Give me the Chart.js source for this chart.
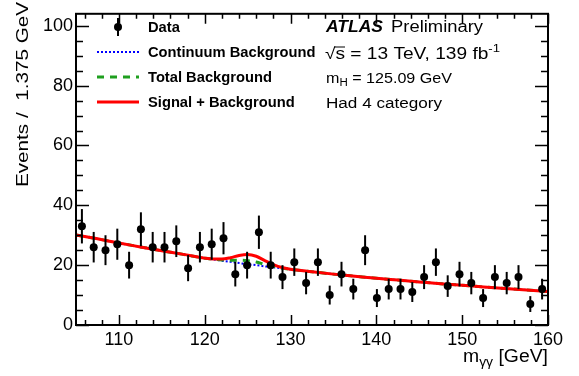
<!DOCTYPE html>
<html>
<head>
<meta charset="utf-8">
<script src="https://cdn.jsdelivr.net/npm/chart.js@4/dist/chart.umd.min.js"></script>
<style>
  html, body { margin: 0; padding: 0; background: #fff; }
  canvas { display: block; }
</style>
</head>
<body>
<canvas id="mgg" width="579" height="376"></canvas>
<script>
// binning of the histogram
var binLow = 105;
var binWidth = 1.375;

// events per bin
var events = [33, 26, 25, 27, 20, 32, 26, 26, 28, 19,
              26, 27, 29, 17, 20, 31, 20, 16, 21, 14,
              21, 10, 17, 12, 25, 9, 12, 12, 11, 16,
              21, 13, 17, 14, 9, 16, 14, 16, 7, 12];

// fitted curves, sampled along the mass axis
var curveMass = [105, 107.5, 110, 112.5, 115, 117.5, 120, 121, 122, 123, 124, 125, 126, 127, 128, 129, 130,
                 132.5, 135, 137.5, 140, 142.5, 145, 147.5, 150, 152.5, 155, 157.5, 160];
var continuumBkg = [30.1, 28.8, 27.4, 26.1, 24.8, 23.6, 22.3, 21.9, 21.5, 21.1, 20.7, 20.3, 20.0, 19.6, 19.3, 18.9, 18.6,
                    17.8, 17.0, 16.3, 15.6, 15.0, 14.4, 13.8, 13.3, 12.7, 12.2, 11.7, 11.2];
var totalBkg = [30.1, 28.8, 27.4, 26.1, 24.8, 23.6, 22.3, 21.97, 21.73, 21.66, 21.67, 21.5, 21.05, 20.25, 19.6, 19.0, 18.6,
                17.8, 17.0, 16.3, 15.6, 15.0, 14.4, 13.8, 13.3, 12.7, 12.2, 11.7, 11.2];
var signalBkg = [30.1, 28.8, 27.4, 26.1, 24.8, 23.6, 22.35, 22.06, 22.05, 22.5, 23.24, 23.57, 22.98, 21.52, 20.19, 19.2, 18.65,
                 17.8, 17.0, 16.3, 15.6, 15.0, 14.4, 13.8, 13.3, 12.7, 12.2, 11.7, 11.2];

// axis tick labels
var xTickValues = [110, 120, 130, 140, 150, 160];
var yTickValues = [0, 20, 40, 60, 80, 100];

var FONT = '"Liberation Sans", Arial, Helvetica, sans-serif';

function toPoints(xs, ys) {
    return xs.map(function (x, i) { return { x: x, y: ys[i] }; });
}

var dataPoints = events.map(function (n, i) {
    return { x: binLow + binWidth * (i + 0.5), y: n };
});

// draws several text pieces in a row, squeezed/stretched to a given width
function drawParts(ctx, x, y, parts, targetW) {
    var w = 0;
    parts.forEach(function (p) {
        ctx.font = p.font;
        p.w = ctx.measureText(p.t).width;
        w += p.w;
    });
    var sx = targetW ? targetW / w : 1;
    ctx.save();
    ctx.translate(x, y);
    ctx.scale(sx, 1);
    var cx = 0;
    parts.forEach(function (p) {
        ctx.font = p.font;
        ctx.fillText(p.t, cx, p.dy || 0);
        if (p.over) {
            ctx.lineWidth = 1;
            ctx.beginPath();
            ctx.moveTo(cx - 1, p.over);
            ctx.lineTo(cx + p.w, p.over);
            ctx.stroke();
        }
        cx += p.w;
    });
    ctx.restore();
}

var errorBars = {
    id: 'errorBars',
    afterDatasetsDraw: function (chart) {
        var ctx = chart.ctx, xs = chart.scales.x, ys = chart.scales.y;
        ctx.save();
        ctx.strokeStyle = '#000';
        ctx.lineWidth = 2;
        dataPoints.forEach(function (p) {
            var err = Math.sqrt(p.y);
            var px = xs.getPixelForValue(p.x);
            ctx.beginPath();
            ctx.moveTo(px, ys.getPixelForValue(p.y + err));
            ctx.lineTo(px, ys.getPixelForValue(p.y - err));
            ctx.stroke();
        });
        ctx.restore();
    }
};

var atlasFrame = {
    id: 'atlasFrame',
    afterDraw: function (chart) {
        var ctx = chart.ctx, a = chart.chartArea;
        var xs = chart.scales.x, ys = chart.scales.y;
        ctx.save();
        ctx.strokeStyle = '#000';
        ctx.fillStyle = '#000';

        // inward ticks on all four sides
        ctx.lineWidth = 1.5;
        ctx.beginPath();
        for (var v = 0; v <= ys.max; v += 5) {
            var py = Math.round(ys.getPixelForValue(v)) + 0.5;
            var len = (v % 20 === 0) ? 13 : 7;
            ctx.moveTo(a.left, py); ctx.lineTo(a.left + len, py);
            ctx.moveTo(a.right, py); ctx.lineTo(a.right - len, py);
        }
        for (var m = 106; m <= xs.max; m += 2) {
            var px = Math.round(xs.getPixelForValue(m)) + 0.5;
            var l2 = (m % 10 === 0) ? 10 : 5;
            ctx.moveTo(px, a.bottom); ctx.lineTo(px, a.bottom - l2);
            ctx.moveTo(px, a.top); ctx.lineTo(px, a.top + l2);
        }
        ctx.stroke();

        ctx.lineWidth = 2;
        ctx.strokeRect(a.left, a.top, a.right - a.left, a.bottom - a.top);

        // axis titles
        ctx.textBaseline = 'alphabetic';
        ctx.textAlign = 'left';
        drawParts(ctx, 463, 362, [
            { t: 'm', font: '18px ' + FONT },
            { t: 'γγ', font: '13px ' + FONT, dy: 4 },
            { t: ' [GeV]', font: '18px ' + FONT }
        ], 85);

        ctx.save();
        ctx.translate(28, 187);
        ctx.rotate(-Math.PI / 2);
        drawParts(ctx, 0, 0, [{ t: 'Events /  1.375 GeV', font: '16px ' + FONT }], 185);
        ctx.restore();

        // legend
        var bold = '700 14px ' + FONT;
        var legX = 148, legW = 167 / 159;
        var rows = [
            { label: 'Data', y: 27 },
            { label: 'Continuum Background', y: 52 },
            { label: 'Total Background', y: 77 },
            { label: 'Signal + Background', y: 102 }
        ];
        rows.forEach(function (r) {
            ctx.font = bold;
            var w = ctx.measureText(r.label).width * legW;
            drawParts(ctx, legX, r.y + 5, [{ t: r.label, font: bold }], w);
        });
        // data marker
        ctx.lineWidth = 2;
        ctx.beginPath();
        ctx.moveTo(118, 18); ctx.lineTo(118, 36);
        ctx.stroke();
        ctx.beginPath();
        ctx.arc(118, 27, 4, 0, Math.PI * 2);
        ctx.fill();
        // line samples
        var samples = [
            { y: 52, color: '#0000ff', width: 2, dash: [2, 2] },
            { y: 77, color: '#1f9f1f', width: 3, dash: [7, 6] },
            { y: 102, color: '#ff0000', width: 3, dash: [] }
        ];
        samples.forEach(function (s) {
            ctx.strokeStyle = s.color;
            ctx.lineWidth = s.width;
            ctx.setLineDash(s.dash);
            ctx.beginPath();
            ctx.moveTo(97, s.y); ctx.lineTo(139, s.y);
            ctx.stroke();
        });
        ctx.setLineDash([]);
        ctx.strokeStyle = '#000';

        // ATLAS label block
        drawParts(ctx, 326, 32, [{ t: 'ATLAS', font: 'italic 700 16px ' + FONT }], 57);
        drawParts(ctx, 391, 32, [{ t: 'Preliminary', font: '16px ' + FONT }], 92);
        drawParts(ctx, 325, 59, [
            { t: '√', font: '16px ' + FONT },
            { t: 's', font: '16px ' + FONT, over: -12 },
            { t: ' = 13 TeV, 139 fb', font: '16px ' + FONT },
            { t: '-1', font: '11px ' + FONT, dy: -7 }
        ], 175);
        drawParts(ctx, 326, 83, [
            { t: 'm', font: '14px ' + FONT },
            { t: 'H', font: '10px ' + FONT, dy: 3 },
            { t: ' = 125.09 GeV', font: '14px ' + FONT }
        ], 126);
        drawParts(ctx, 326, 108, [{ t: 'Had 4 category', font: '14px ' + FONT }], 116);

        ctx.restore();
    }
};

new Chart(document.getElementById('mgg').getContext('2d'), {
    type: 'scatter',
    data: {
        datasets: [
            {
                label: 'Data',
                data: dataPoints,
                pointRadius: 4,
                pointBackgroundColor: '#000',
                pointBorderWidth: 0,
                showLine: false,
                order: 0
            },
            {
                label: 'Signal + Background',
                data: toPoints(curveMass, signalBkg),
                showLine: true,
                pointRadius: 0,
                borderColor: '#ff0000',
                borderWidth: 3,
                cubicInterpolationMode: 'monotone',
                order: 1
            },
            {
                label: 'Total Background',
                data: toPoints(curveMass, totalBkg),
                showLine: true,
                pointRadius: 0,
                borderColor: '#1f9f1f',
                borderWidth: 3,
                borderDash: [7, 6],
                cubicInterpolationMode: 'monotone',
                order: 2
            },
            {
                label: 'Continuum Background',
                data: toPoints(curveMass, continuumBkg),
                showLine: true,
                pointRadius: 0,
                borderColor: '#0000ff',
                borderWidth: 2,
                borderDash: [2, 2],
                cubicInterpolationMode: 'monotone',
                order: 3
            }
        ]
    },
    options: {
        responsive: false,
        animation: false,
        devicePixelRatio: 1,
        layout: { padding: { top: 5, right: 31, left: 0, bottom: 0 } },
        plugins: {
            legend: { display: false },
            tooltip: { enabled: false }
        },
        scales: {
            x: {
                type: 'linear',
                min: 105,
                max: 160,
                grid: { display: false, drawTicks: false },
                border: { display: false },
                ticks: {
                    color: '#000',
                    font: { family: FONT, size: 18 },
                    padding: 4,
                    maxRotation: 0,
                    autoSkip: false
                },
                afterBuildTicks: function (s) {
                    s.ticks = xTickValues.map(function (v) { return { value: v }; });
                },
                afterFit: function (s) { s.height = 51; }
            },
            y: {
                type: 'linear',
                min: 0,
                max: 104,
                grid: { display: false, drawTicks: false },
                border: { display: false },
                ticks: {
                    color: '#000',
                    font: { family: FONT, size: 18 },
                    padding: 3,
                    autoSkip: false
                },
                afterBuildTicks: function (s) {
                    s.ticks = yTickValues.map(function (v) { return { value: v }; });
                },
                afterFit: function (s) { s.width = 76; }
            }
        }
    },
    plugins: [errorBars, atlasFrame]
});
</script>
</body>
</html>
